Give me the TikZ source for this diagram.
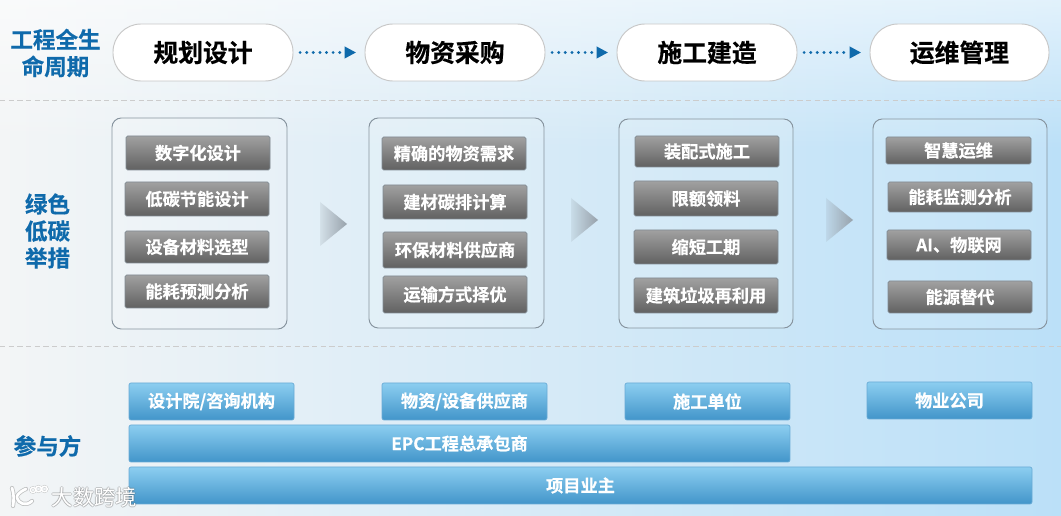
\documentclass[tikz,border=0pt]{standalone}
\usetikzlibrary{fadings}
\usepackage{fontspec}
\setmainfont{Noto Sans CJK SC}[BoldFont={Noto Sans CJK SC Bold},BoldFeatures={FakeBold=0.5}]
\definecolor{titleblue}{HTML}{0F6AAB}
\definecolor{blue1}{HTML}{8CCEF0}
\definecolor{blue2}{HTML}{4295CA}
\definecolor{bgleft}{HTML}{F3F5F6}
\definecolor{bgmid}{HTML}{E6F1F7}
\definecolor{bgend}{HTML}{BBE0F8}
\definecolor{panelline}{HTML}{87949F}
\definecolor{boxline}{HTML}{808A92}
\definecolor{chevgray}{HTML}{98A2AB}
\tikzset{
  x=0.75pt,y=-0.75pt,
  pill/.style={draw=black!22,line width=0.7pt,fill=white,rounded corners=21pt,inner sep=0,font=\bfseries\fontsize{18.6}{20}\selectfont,text=black},
  panel/.style={draw=panelline,line width=0.7pt,fill=white,fill opacity=0.12,text opacity=1,rounded corners=7pt,inner sep=0},
  graybox/.style={draw=boxline,line width=0.5pt,top color=black!37,bottom color=black!62,rounded corners=1.2pt,inner sep=0,text=white,font=\bfseries\fontsize{12.9}{14}\selectfont},
  bluebox/.style={draw=blue2!80,line width=0.5pt,top color=blue1,bottom color=blue2,rounded corners=1.5pt,inner sep=0,text=white,font=\bfseries\fontsize{12.9}{14}\selectfont},
  heading/.style={text=titleblue,inner sep=0,align=center,font=\bfseries\fontsize{16.9}{20.2}\selectfont},
  sep/.style={draw=black!20,dash pattern=on 4pt off 2.5pt,line width=0.5pt},
  flowarrow/.style={draw=titleblue,line width=2.4pt,line cap=round,dash pattern=on 0pt off 4.95pt},
  flowtip/.style={fill=titleblue},
  chevron/.style={fill=chevgray,path fading=west},
  chevbase/.style={fill=chevgray,fill opacity=0.18},
  wmark/.style={inner sep=0,font=\fontsize{16}{17}\selectfont},
}
\newcommand\boxat[7]{\node[#1,minimum width={(#5-#3)*0.75pt},minimum height={(#6-#4)*0.75pt}] (#2) at ({(#3+#5)/2},{(#4+#6)/2}) {\raisebox{-0.7pt}{#7}};}
\newcommand\chev[2]{\fill[chevbase] (#1,#2-22) -- (#1+27,#2) -- (#1,#2+22) -- cycle;\fill[chevron] (#1,#2-22) -- (#1+27,#2) -- (#1,#2+22) -- cycle;}
\newcommand\wmlogo[2]{%
  \draw[draw=#1,line width=#2,line cap=round] (12,488) .. controls (14,494) and (14,500) .. (13,506);
  \draw[draw=#1,line width=#2,line cap=round] (26,489) .. controls (19,492) and (16,496) .. (17,498) .. controls (18,503) and (26,507) .. (32,501);
  \draw[draw=#1,line width=0.55*#2] (33,490) circle (2.6) (38.5,489) circle (2.8) (44.5,489) circle (2.8);
}
\begin{document}
\begin{tikzpicture}
\useasboundingbox (0,0) rectangle (1061,516);
\shade[left color=bgleft,middle color=bgmid,right color=bgend] (0,0) rectangle (1061,516);
\fill[white,path fading=south,fill opacity=0.8] (0,-60) rectangle (1061,150);

\node[heading] (h1) at (55.5,53) {工程全生\\命周期};
\node[heading] (h2) at (47.5,231) {绿色\\低碳\\举措};
\node[heading] (h3) at (47.5,446) {参与方};

\boxat{pill}{p1}{113}{24}{293}{81}{规划设计}
\boxat{pill}{p2}{365}{24}{545}{81}{物资采购}
\boxat{pill}{p3}{617}{24}{797}{81}{施工建造}
\boxat{pill}{p4}{870}{24}{1049}{81}{运维管理}
\foreach \a/\b in {p1/p2,p2/p3,p3/p4}{
  \draw[flowarrow] ([xshift=5pt]\a.east) -- ([xshift=-15pt]\b.west);
  \fill[flowtip] ([xshift=-6.5pt]\b.west) -- ++(-8.5pt,4.6pt) -- ++(0,-9.2pt) -- cycle;
}
\coordinate (l1) at (0,100); \coordinate (r1) at (1061,100);
\coordinate (l2) at (0,346); \coordinate (r2) at (1061,346);
\draw[sep] (l1) -- (r1);
\draw[sep] (l2) -- (r2);

\boxat{panel}{c1}{112}{118}{287}{329}{}
\boxat{panel}{c2}{369}{118}{544}{328}{}
\boxat{panel}{c3}{619}{119}{793}{328}{}
\boxat{panel}{c4}{873}{119}{1047}{329}{}
\chev{320}{224}
\chev{571}{220}
\chev{826}{220}

\boxat{graybox}{a1}{126}{136}{270}{170}{数字化设计}
\boxat{graybox}{a2}{125}{182}{269}{216}{低碳节能设计}
\boxat{graybox}{a3}{125}{231}{269}{263}{设备材料选型}
\boxat{graybox}{a4}{125}{275}{269}{308}{能耗预测分析}
\boxat{graybox}{b1}{382}{137}{526}{170}{精确的物资需求}
\boxat{graybox}{b2}{383}{185}{527}{219}{建材碳排计算}
\boxat{graybox}{b3}{383}{232}{527}{268}{环保材料供应商}
\boxat{graybox}{b4}{383}{276}{527}{313}{运输方式择优}
\boxat{graybox}{d1}{635}{136}{779}{167}{装配式施工}
\boxat{graybox}{d2}{634}{181}{778}{216}{限额领料}
\boxat{graybox}{d3}{634}{230}{778}{264}{缩短工期}
\boxat{graybox}{d4}{634}{278}{778}{313}{建筑垃圾再利用}
\boxat{graybox}{e1}{886}{137}{1031}{164}{智慧运维}
\boxat{graybox}{e2}{888}{182}{1032}{212}{能耗监测分析}
\boxat{graybox}{e3}{887}{230}{1031}{260}{AI、物联网}
\boxat{graybox}{e4}{888}{281}{1032}{313}{能源替代}

\boxat{bluebox}{f1}{129}{383}{294}{420}{设计院/咨询机构}
\boxat{bluebox}{f2}{382}{383}{547}{420}{物资/设备供应商}
\boxat{bluebox}{f3}{625}{383}{790}{420}{施工单位}
\boxat{bluebox}{f4}{867}{382}{1032}{419}{物业公司}
\boxat{bluebox}{f5}{129}{425}{790}{462}{EPC工程总承包商}
\boxat{bluebox}{f6}{129}{467}{1032}{504}{项目业主}

\begin{scope}[opacity=0.35]
\wmlogo{black!60}{3.2pt}
\end{scope}
\wmlogo{white}{2pt}
\foreach \i/\dx/\dy in {1/-0.9/0,2/0.9/0,3/0/-0.9,4/0/0.9}{
  \node[wmark,text=black!60,text opacity=0.3] (wms\i) at (94.5+\dx,497+\dy) {大数跨境};
}
\node[wmark,text=white] (wm) at (94.5,497) {大数跨境};
\end{tikzpicture}
\end{document}
